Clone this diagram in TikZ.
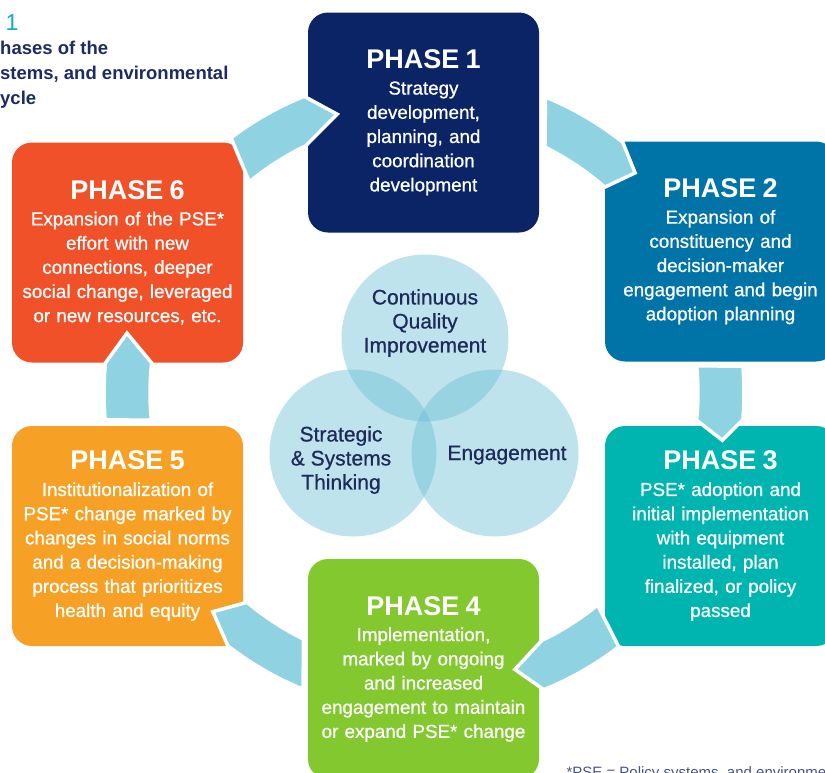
\documentclass[tikz,border=0pt]{standalone}
\usepackage{fontspec}
\setmainfont{Liberation Sans}
\newfontfamily\medfont{Liberation Sans}[FakeBold=0.8]
\usetikzlibrary{positioning}

\definecolor{phaseone}{HTML}{0B2466}
\definecolor{phasetwo}{HTML}{0073A7}
\definecolor{phasethree}{HTML}{00B5B0}
\definecolor{phasefour}{HTML}{84C82F}
\definecolor{phasefive}{HTML}{F6A125}
\definecolor{phasesix}{HTML}{F05129}
\definecolor{flowblue}{HTML}{8FD3E2}
\definecolor{ringfill}{HTML}{64BCD2}
\definecolor{titlenavy}{HTML}{1B2C63}
\definecolor{ringnavy}{HTML}{1E2A5A}
\definecolor{figcyan}{HTML}{17A8CA}
\definecolor{footgray}{HTML}{4A5580}

\newcommand{\phasehead}[1]{{\fontsize{27}{24.2}\selectfont\normalfont\bfseries PHASE #1}\\[1.8pt]}

\begin{document}
\begin{tikzpicture}[x=1pt,y=1pt,
        phase/.style={rounded corners=20pt, minimum width=231pt,
                      minimum height=220pt, text width=225pt, inner sep=0pt,
                      align=center, text=white,
                      font=\medfont\fontsize{18.8}{24.2}\selectfont},
        ring/.style={circle, minimum size=167pt, inner sep=0pt,
                     fill=ringfill, fill opacity=0.42},
        ringtext/.style={align=center, text=ringnavy,
                         font=\medfont\fontsize{21}{24}\selectfont},
        flow/.style={fill=flowblue, draw=white, line width=3.5pt}
      ]
      \useasboundingbox (0,0) rectangle (825,-772);
      \clip (0,0) rectangle (825,-772);

      % title, cut at the left edge
      \node[anchor=base west, inner sep=0pt, text=figcyan, font=\fontsize{23}{26}\selectfont] (fignum) at (5.5,-30) {1};
      \node[anchor=north west, inner sep=0pt, align=left, text=titlenavy,
            font=\fontsize{18.5}{25}\selectfont\bfseries] (figtitle) at (0,-41)
            {hases of the\\stems, and environmental\\ycle};

      % venn in the middle
      \node[ring] (cqi) at (425,-338) {};
      \node[ring] (sst) at (353,-453) {};
      \node[ring] (eng) at (495,-453) {};
      \node[ringtext] (cqitext) at (425,-323) {Continuous\\Quality\\Improvement};
      \node[ringtext] (ssttext) at (341,-460) {Strategic\\\& Systems\\Thinking};
      \node[ringtext] (engtext) at (507,-455) {Engagement};

      % the six phases
      \node[phase, fill=phaseone] (p1) at (423.5,-122.5)
        {\phasehead{1}Strategy\\development,\\planning, and\\coordination\\development};
      \node[phase, fill=phasetwo] (p2) at (720.5,-251.5)
        {\phasehead{2}Expansion of\\constituency and\\decision-maker\\engagement and begin\\adoption planning};
      \node[phase, fill=phasethree] (p3) at (720.5,-536)
        {\phasehead{3}PSE* adoption and\\initial implementation\\with equipment\\installed, plan\\finalized, or policy\\passed};
      \node[phase, fill=phasefour] (p4) at (423.5,-669)
        {\phasehead{4}Implementation,\\marked by ongoing\\and increased\\engagement to maintain\\or expand PSE* change};
      \node[phase, fill=phasefive] (p5) at (127.5,-536)
        {\phasehead{5}Institutionalization of\\PSE* change marked by\\changes in social norms\\and a decision-making\\process that prioritizes\\health and equity};
      \node[phase, fill=phasesix] (p6) at (127.5,-252.5)
        {\phasehead{6}Expansion of the PSE*\\effort with new\\connections, deeper\\social change, leveraged\\or new resources, etc.};

      % curved arrows round the cycle
      \begin{scope}[shift={(424,-393)}]
        \foreach \a/\b/\c/\d/\e/\f in {127.1/129.6/112/115.6/107.3/292,
                                      67.7/63.8/51.6/48.7/46.2/305,
                                      4.8/5.7/-4.8/-5.7/-9/302,
                                      -52.5/-50.7/-68/-64.5/-71.8/291,
                                      247.8/243.9/232.2/229.8/226/304,
                                      184.8/185.7/174.6/173.7/168.6/303}
          \draw[flow] (\a:320) arc[start angle=\a, end angle=\c, radius=320]
            -- (\e:\f) -- (\d:274) arc[start angle=\d, end angle=\b, radius=274] -- cycle;
      \end{scope}

      \node[anchor=base west, text=footgray, font=\fontsize{15}{18}\selectfont] (note) at (563,-777)
        {*PSE = Policy systems, and environmen};
    \end{tikzpicture}
\end{document}
